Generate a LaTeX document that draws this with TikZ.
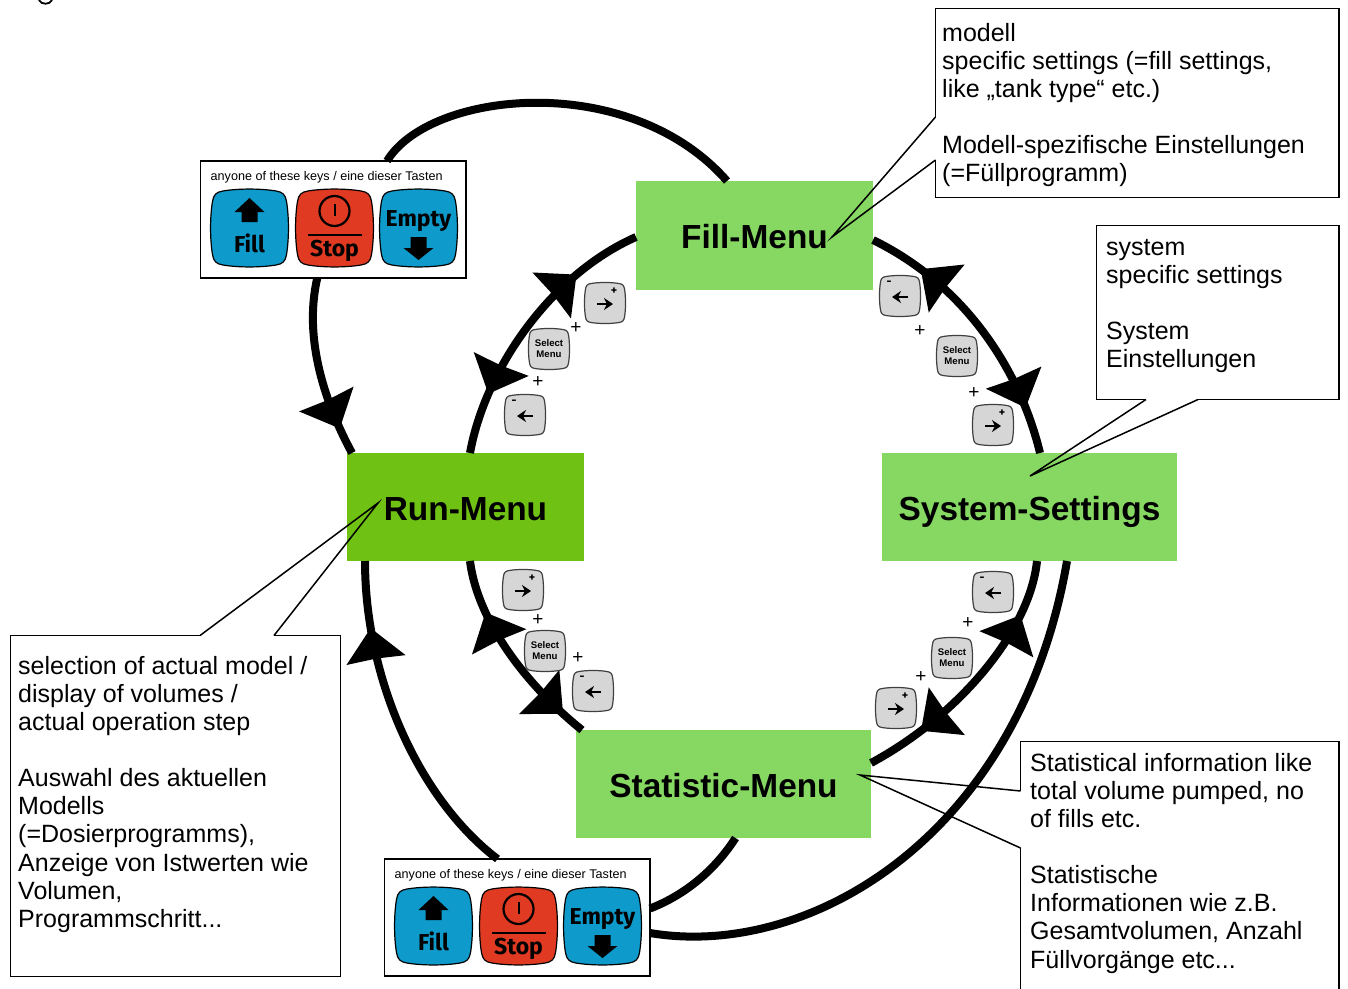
\documentclass[tikz,border=0pt]{standalone}
\usepackage{fontspec}
\setmainfont{Liberation Sans}
\newfontfamily\keyfont{Fira Sans}
\usetikzlibrary{arrows.meta,decorations.markings}

\definecolor{menugreen}{HTML}{86D862}
\definecolor{rungreen}{HTML}{6FC114}
\definecolor{keyblue}{HTML}{0E9ACB}
\definecolor{keyred}{HTML}{E03A22}
\definecolor{keygray}{HTML}{D6D6D6}

% bulged outline of a key, unit size
\newcommand{\squirclepath}{(-.72,-1) .. controls (-.3,-1.07) and (.3,-1.07) .. (.72,-1) .. controls (.9,-.97) and (.97,-.9) .. (1,-.72) .. controls (1.07,-.3) and (1.07,.3) .. (1,.72) .. controls (.97,.9) and (.9,.97) .. (.72,1) .. controls (.3,1.07) and (-.3,1.07) .. (-.72,1) .. controls (-.9,.97) and (-.97,.9) .. (-1,.72) .. controls (-1.07,.3) and (-1.07,-.3) .. (-1,-.72) .. controls (-.97,-.9) and (-.9,-.97) .. (-.72,-1) -- cycle}

\tikzset{
  bighead/.tip={Stealth[length=32pt,width=58pt,inset=1pt]},
  menubox/.style={fill=menugreen, inner sep=0pt, outer sep=0pt, text height=30pt, text depth=4pt, font=\fontsize{33.4}{36}\selectfont\bfseries},
  ringline/.style={line width=8pt},
  twoheads/.style 2 args={postaction={decorate,decoration={markings,
    mark=at position #1 with {\arrowreversed{bighead}},
    mark=at position #2 with {\arrow{bighead}}}}},
  onehead/.style={postaction={decorate,decoration={markings,
    mark=at position #1 with {\arrow{bighead}}}}},
  notebox/.style={draw, line width=1.5pt, fill=white, inner sep=0pt, outer sep=0pt, anchor=north west},
  notetext/.style={inner sep=0pt, anchor=north west, align=left, font=\fontsize{25}{28.1}\selectfont},
  pointer/.style={draw, line width=1.5pt},
  plussign/.style={inner sep=0pt, font=\fontsize{19}{19}\selectfont},
  keylabel/.style={inner sep=0pt, text=black, font=\keyfont\bfseries\fontsize{#1}{#1}\selectfont},
  smallkey/.style={draw=black!75, line width=1.2pt, fill=keygray},
  smallarrow/.style={line width=2.8pt, -{Stealth[length=9pt,width=12pt]}},
  pics/pluskey/.style={code={
    \draw[smallkey,scale=19.5] \squirclepath;
    \draw[smallarrow] (-8,1) -- (8,1);
    \node[keylabel=12] (-sign) at (9,-12) {+};
  }},
  pics/minuskey/.style={code={
    \draw[smallkey,scale=19.5] \squirclepath;
    \draw[smallarrow] (8,1) -- (-8,1);
    \node[keylabel=12] (-sign) at (-11,-13) {-};
  }},
  pics/selectkey/.style={code={
    \draw[smallkey,scale=19.5] \squirclepath;
    \node[inner sep=0pt, align=center, font=\fontsize{9.6}{11}\selectfont\bfseries] (-text) {Select\\Menu};
  }},
  pics/keypanel/.style={code={
    \node[notebox, minimum width=265.5pt, minimum height=117pt] (-box) at (0,0) {};
    \node[inner sep=0pt, anchor=base west, font=\fontsize{12.6}{13}\selectfont] (-title) at (10,19) {anyone of these keys / eine dieser Tasten};
    % fill key
    \draw[fill=keyblue, line width=1.2pt, shift={(49,67)}, scale=37] \squirclepath;
    \fill[shift={(49,67)}] (0,-30) -- (15,-16) -- (8,-16) -- (8,-6) -- (-8,-6) -- (-8,-16) -- (-15,-16) -- cycle;
    \node[keylabel=23] (-fill) at (49,82) {Fill};
    % stop key
    \draw[fill=keyred, line width=1.2pt, shift={(134,67)}, scale=37] \squirclepath;
    \draw[line width=2.2pt, shift={(134,67)}] (0,-17) circle (15);
    \draw[line width=2pt, shift={(134,67)}] (0,-24) -- (0,-12);
    \draw[line width=2pt, shift={(134,67)}] (-27,7) -- (27,7);
    \node[keylabel=23] (-stop) at (134,90) {Stop};
    % empty key
    \draw[fill=keyblue, line width=1.2pt, shift={(218,67)}, scale=37] \squirclepath;
    \node[keylabel=23] (-empty) at (218,60) {Empty};
    \fill[shift={(218,67)}] (0,32) -- (15,20) -- (8,20) -- (8,9) -- (-8,9) -- (-8,20) -- (-15,20) -- cycle;
  }}
}

\begin{document}
\begin{tikzpicture}[x=1pt,y=-1pt]
  \clip (0,0) rectangle (1348,988);

  % remains of a cut off heading
  \draw[line width=1.8pt] (39,0) .. controls (41,5) and (50,5) .. (52,0);

  % menus
  \node[menubox, minimum width=237pt, minimum height=109pt] (fillmenu) at (754.5,235.5) {Fill-Menu};
  \node[menubox, fill=rungreen, minimum width=237pt, minimum height=108pt] (runmenu) at (465.5,507) {Run-Menu};
  \node[menubox, minimum width=295pt, minimum height=108pt] (syssettings) at (1029.5,507) {System-Settings};
  \node[menubox, minimum width=295pt, minimum height=108pt] (statmenu) at (723.5,784) {Statistic-Menu};

  % panels with the three keys
  \pic (keysa) at (200.5,161) {keypanel};
  \pic (keysb) at (384.5,859) {keypanel};

  % inner ring
  \draw[ringline, twoheads={0.25}{0.78}] ([yshift=-1.5pt]fillmenu.west) .. controls (550,275) and (485,370) .. ([xshift=4.5pt]runmenu.north);
  \draw[ringline, twoheads={0.2}{0.83}] ([yshift=-4.5pt]fillmenu.east) .. controls (965,285) and (1020,370) .. ([xshift=10.5pt]syssettings.north);
  \draw[ringline, twoheads={0.21}{0.78}] ([xshift=7.5pt]syssettings.south) .. controls (1030,630) and (960,715) .. ([yshift=21pt]statmenu.east);
  \draw[ringline, twoheads={0.26}{0.88}] ([xshift=4.5pt]runmenu.south) .. controls (478,625) and (532,690) .. ([xshift=6pt]statmenu.north west);

  % outer lines
  \draw[ringline] ([xshift=-79pt]keysa-box.north east) .. controls (430,90) and (630,70) .. ([xshift=91pt]fillmenu.north west);
  \draw[ringline, onehead=0.85] ([xshift=-16pt]keysa-box.south) .. controls (303,340) and (326,405) .. ([xshift=5pt]runmenu.north west);
  \draw[ringline, onehead=0.8] ([xshift=113pt]keysb-box.north west) .. controls (420,800) and (365,680) .. ([xshift=18pt]runmenu.south west);
  \draw[ringline] ([xshift=12pt]statmenu.south) .. controls (715,870) and (685,895) .. ([yshift=9pt]keysb-box.east);
  \draw[ringline] ([yshift=43pt]keysb-box.south east) .. controls (810,960) and (1020,835) .. ([xshift=37.5pt]syssettings.south);

  % small keys
  \foreach \px/\py/\n in {605/303/pa,993/425/pb,523/590/pc,896/708/pd}
    \pic (\n) at (\px,\py) {pluskey};
  \foreach \px/\py/\n in {525/415/ma,900/296/mb,593/691/mc,993/592/md}
    \pic (\n) at (\px,\py) {minuskey};
  \foreach \px/\py/\n in {549/349/sa,957/356/sb,545/651/sc,952/658/sd}
    \pic (\n) at (\px,\py) {selectkey};
  \foreach \px/\py/\n in {576/328/a,538/382/b,920/331/c,974/393/d,538/620/e,578/658/f,968/623/g,921/677/h}
    \node[plussign] (plus\n) at (\px,\py) {+};

  % notes
  \node[notebox, minimum width=403.5pt, minimum height=189pt] (modellbox) at (935.5,8.5) {};
  \node[notetext] (modelltext) at (942,23) {modell\\specific settings (=fill settings,\\like „tank type“ etc.)\\[28.1pt]Modell-spezifische Einstellungen\\(=Füllprogramm)};
  \coordinate (modelltip) at (832,237);
  \coordinate (modella) at (935.5,117);
  \coordinate (modellb) at (935.5,160);
  \draw[white, line width=2.5pt] (modella) -- (modellb);
  \draw[pointer] (modella) -- (modelltip) -- (modellb);

  \node[notebox, minimum width=242.5pt, minimum height=174pt] (systembox) at (1096.5,225.5) {};
  \node[notetext] (systemtext) at (1106,239) {system\\specific settings\\[28.1pt]System\\Einstellungen};
  \coordinate (systemtip) at (1030,476);
  \coordinate (systema) at (1146,399.5);
  \coordinate (systemb) at (1198,399.5);
  \draw[white, line width=2.5pt] (systema) -- (systemb);
  \draw[pointer] (systema) -- (systemtip) -- (systemb);

  \node[notebox, minimum width=330pt, minimum height=341pt] (runbox) at (10.5,635.5) {};
  \node[notetext] (runtext) at (18,656) {selection of actual model /\\display of volumes /\\actual operation step\\[28.1pt]Auswahl des aktuellen\\Modells\\(=Dosierprogramms),\\Anzeige von Istwerten wie\\Volumen,\\Programmschritt...};
  \coordinate (runtip) at (378,503);
  \coordinate (runa) at (200,635.5);
  \coordinate (runb) at (274,635.5);
  \draw[white, line width=2.5pt] (runa) -- (runb);
  \draw[pointer] (runa) -- (runtip) -- (runb);

  \node[notebox, minimum width=318.5pt, minimum height=270pt] (statbox) at (1020.5,741.5) {};
  \node[notetext] (stattext) at (1030,753) {Statistical information like\\total volume pumped, no\\of fills etc.\\[28.1pt]Statistische\\Informationen wie z.B.\\Gesamtvolumen, Anzahl\\Füllvorgänge etc...};
  \coordinate (stattip) at (860,775);
  \coordinate (stata) at (1020.5,791);
  \coordinate (statb) at (1020.5,848);
  \draw[white, line width=2.5pt] (stata) -- (statb);
  \draw[pointer] (stata) -- (stattip) -- (statb);
\end{tikzpicture}
\end{document}
